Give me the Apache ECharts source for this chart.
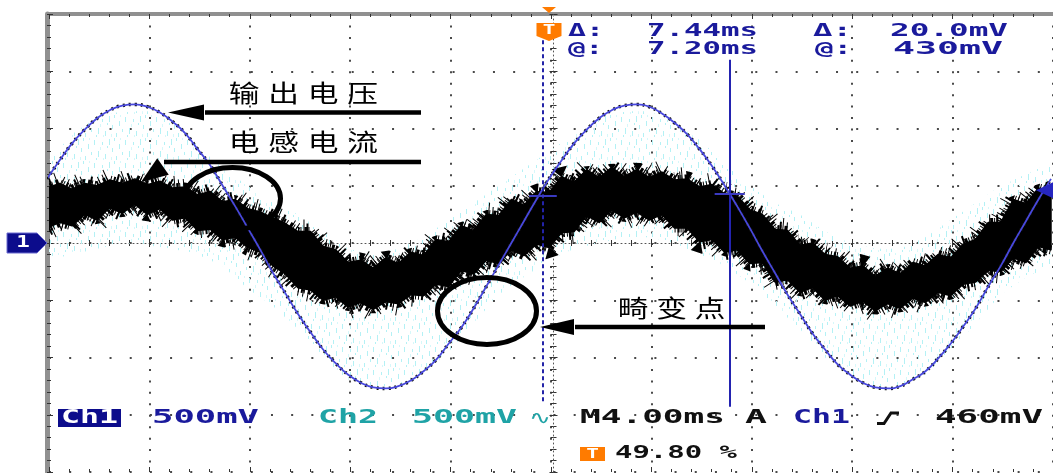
<!DOCTYPE html>
<html>
<head>
<meta charset="utf-8">
<script src="https://cdn.jsdelivr.net/npm/echarts@6/dist/echarts.min.js"></script>
<style>
  html, body { margin: 0; padding: 0; background: #fff; }
  #scope { width: 1053px; height: 473px; }
</style>
</head>
<body>
<div id="scope"></div>
<script>
// ---------------- acquisition settings ----------------
const timePerDiv = 4;          // ms / div  (M4.00ms)
const voltsPerDiv = 0.5;       // V / div   (Ch1 500mV, Ch2 500mV)
const hDivs = 10, vDivs = 8;
const triggerPosPct = 49.80;   // trigger position, % of record
const triggerLevel = 0.46;     // V, Ch1 rising edge
const cursorTimes = [-0.24, 7.20];  // ms, relative to trigger
const cursorVolts = [0.41, 0.43];   // V

// ---------------- output voltage (Ch1), 0.5 ms samples ----------------
const vStart = -20, vStep = 0.5;
const outputVoltage = [
  0.56, 0.72, 0.87, 0.99, 1.09, 1.16, 1.20, 1.21, 1.19, 1.14,
  1.06, 0.96, 0.82, 0.68, 0.50, 0.32, 0.13, -0.06, -0.26, -0.44,
  -0.62, -0.78, -0.93, -1.05, -1.15, -1.22, -1.26, -1.27, -1.25, -1.20,
  -1.12, -1.02, -0.88, -0.74, -0.57, -0.38, -0.19, 0.00, 0.19, 0.38,
  0.56, 0.72, 0.87, 0.99, 1.09, 1.16, 1.20, 1.21, 1.19, 1.13,
  1.05, 0.95, 0.82, 0.67, 0.50, 0.32, 0.13, -0.07, -0.26, -0.45,
  -0.62, -0.79, -0.93, -1.06, -1.15, -1.22, -1.26, -1.27, -1.25, -1.19,
  -1.12, -1.01, -0.88, -0.73, -0.57, -0.38, -0.20, 0.00, 0.19, 0.38,
  0.56
];

// ---------------- inductor current trace envelope, 0.5 ms samples ----------------
const iStart = -20, iStep = 0.5;
const currentUpper = [
  0.48, 0.52, 0.47, 0.52, 0.50, 0.55, 0.52, 0.56, 0.51, 0.54,
  0.48, 0.49, 0.42, 0.45, 0.36, 0.38, 0.30, 0.27, 0.22, 0.17,
  0.10, 0.10, -0.03, -0.06, -0.17, -0.15, -0.22, -0.13, -0.18, -0.08,
  -0.11, 0.03, 0.01, 0.15, 0.11, 0.25, 0.24, 0.38, 0.33, 0.45,
  0.44, 0.58, 0.53, 0.64, 0.57, 0.66, 0.58, 0.64, 0.57, 0.62,
  0.55, 0.56, 0.49, 0.51, 0.43, 0.41, 0.29, 0.25, 0.12, 0.11,
  -0.02, 0.00, -0.10, -0.12, -0.22, -0.20, -0.29, -0.22, -0.27, -0.17,
  -0.20, -0.10, -0.13, -0.01, 0.03, 0.18, 0.18, 0.38, 0.34, 0.48,
  0.45
];
const currentLower = [
  0.13, 0.18, 0.15, 0.25, 0.20, 0.31, 0.26, 0.34, 0.25, 0.30,
  0.20, 0.22, 0.11, 0.12, 0.03, 0.05, -0.04, -0.08, -0.20, -0.27,
  -0.39, -0.41, -0.50, -0.47, -0.56, -0.52, -0.58, -0.51, -0.53, -0.45,
  -0.46, -0.36, -0.38, -0.24, -0.27, -0.15, -0.18, -0.06, -0.11, -0.01,
  -0.04, 0.09, 0.10, 0.24, 0.18, 0.29, 0.22, 0.27, 0.20, 0.25,
  0.13, 0.13, 0.01, 0.03, -0.08, -0.06, -0.18, -0.17, -0.34, -0.32,
  -0.43, -0.39, -0.50, -0.46, -0.55, -0.51, -0.59, -0.53, -0.57, -0.48,
  -0.52, -0.43, -0.46, -0.36, -0.34, -0.24, -0.25, -0.13, -0.17, -0.03,
  -0.06
];

// ---------------- Ch2 noise spread, 1 ms samples ----------------
const hStart = -20, hStep = 1;
const ch2Upper = [
  0.70, 0.95, 1.10, 1.15, 1.15, 1.05, 0.85, 0.65, 0.50, 0.35,
  0.25, 0.10, -0.05, -0.10, -0.05, 0.05, 0.20, 0.35, 0.50, 0.65,
  0.80, 0.95, 1.10, 1.15, 1.15, 1.05, 0.90, 0.70, 0.50, 0.35,
  0.25, 0.10, 0.00, -0.05, -0.05, 0.05, 0.20, 0.35, 0.50, 0.60,
  0.70
];
const ch2Lower = [
  -0.15, -0.10, -0.05, 0.00, -0.02, -0.05, -0.10, -0.20, -0.40, -0.55,
  -0.75, -1.00, -1.20, -1.25, -1.25, -1.15, -0.95, -0.70, -0.45, -0.30,
  -0.15, -0.05, 0.00, 0.05, 0.05, 0.00, -0.10, -0.20, -0.35, -0.55,
  -0.75, -1.00, -1.15, -1.25, -1.25, -1.15, -0.95, -0.70, -0.45, -0.30,
  -0.20
];

// ---------------- screen geometry ----------------
const xMin = -triggerPosPct / 100 * hDivs * timePerDiv;
const xMax = xMin + hDivs * timePerDiv;
const yMin = -vDivs / 2 * voltsPerDiv, yMax = vDivs / 2 * voltsPerDiv;
const GRID = { left: 49, top: 14, width: 1009, height: 458 };

const BLUE_TXT = '#1a1a9c', TEAL = '#1fa3a6', ORANGE = '#ff7b00', NAVY = '#0c0c8c';
const DOT = '#4a4a4a';

// sparse cyan streak texture for the noisy Ch2 trace
function hazePattern() {
  const c = document.createElement('canvas');
  c.width = 31; c.height = 23;
  const g = c.getContext('2d');
  g.fillStyle = '#b4f1f5';
  [[1, 2, 5], [5, 13, 6], [9, 4, 3], [12, 16, 5], [16, 1, 6], [19, 10, 4],
   [23, 18, 4], [26, 6, 5], [29, 14, 3], [3, 20, 2], [14, 8, 2], [21, 0, 3]]
    .forEach(([x, y, h]) => g.fillRect(x, y, 1, h));
  g.fillStyle = '#d6f8fa';
  [[7, 9, 3], [18, 19, 3], [27, 0, 2], [10, 20, 2]]
    .forEach(([x, y, h]) => g.fillRect(x, y, 1, h));
  return c;
}

// filled band between two sampled envelopes; optional ragged fringe on both edges
function envelopeSeries(name, start, step, upper, lower, style, z, fringe) {
  return {
    type: 'custom', name, z, silent: true, clip: true,
    data: [[0, 0]],
    encode: { x: 0, y: 1 },
    renderItem: (params, api) => {
      const top = upper.map((v, i) => api.coord([start + i * step, v]));
      const bot = lower.map((v, i) => api.coord([start + i * step, v]));
      const children = [{ type: 'polygon', shape: { points: top.concat(bot.slice().reverse()) }, style }];
      (fringe || []).forEach(f => {
        [top, bot].forEach((pts, k) => children.push({
          type: 'polyline', shape: { points: pts },
          style: { fill: null, stroke: '#000', lineWidth: f.width, lineDash: f.dash,
                   lineDashOffset: f.offset * (k + 1), lineCap: 'butt', lineJoin: 'bevel' }
        }));
      });
      return { type: 'group', children };
    }
  };
}

function baseAxis(dimMin, dimMax, interval, extra) {
  return Object.assign({
    type: 'value', min: dimMin, max: dimMax, interval,
    axisLabel: { show: false },
    splitLine: { show: false },
    axisTick: { show: false },
    minorTick: { show: false },
    axisLine: { show: false, onZero: false }
  }, extra);
}

const tick = (len, inside) => ({ show: true, inside, length: len, lineStyle: { color: '#333', width: 1 } });
const minor = (len) => ({ show: true, splitNumber: 5, length: len, lineStyle: { color: '#333', width: 1 } });
const centreX = GRID.left + GRID.width / 2;
const centreY = GRID.top + GRID.height / 2;

const sineData = outputVoltage.map((v, i) => [vStart + i * vStep, v]);

const chart = echarts.init(document.getElementById('scope'), null, { renderer: 'canvas', width: 1053, height: 473 });

chart.setOption({
  animation: false,
  backgroundColor: '#ffffff',
  grid: GRID,
  xAxis: [
    baseAxis(xMin, xMax, timePerDiv, {
      position: 'top',
      axisLine: { show: true, onZero: false, lineStyle: { color: '#909090', width: 4 } },
      axisTick: tick(5, true), minorTick: minor(3),
      splitLine: { show: true, lineStyle: { color: DOT, width: 2, type: [2, 9.45] } }
    }),
    baseAxis(xMin, xMax, timePerDiv, {
      position: 'top', offset: -(centreY - GRID.top),
      axisLine: { show: true, onZero: false, lineStyle: { color: '#555', width: 1, type: [1, 3] } },
      axisTick: tick(4, true), minorTick: minor(3)
    }),
    baseAxis(xMin, xMax, timePerDiv, {
      position: 'top', offset: -(centreY - GRID.top),
      axisTick: tick(4, false), minorTick: minor(3)
    }),
    baseAxis(xMin, xMax, timePerDiv, {
      position: 'bottom',
      axisTick: tick(5, true), minorTick: minor(3)
    })
  ],
  yAxis: [
    baseAxis(yMin, yMax, voltsPerDiv, {
      position: 'left', offset: 2,
      axisLine: { show: true, onZero: false, lineStyle: { color: '#909090', width: 5 } },
      axisTick: tick(6, true), minorTick: minor(4),
      splitLine: { show: true, lineStyle: { color: DOT, width: 2, type: [2, 18.18] } }
    }),
    baseAxis(yMin, yMax, voltsPerDiv, {
      position: 'left', offset: -(centreX - GRID.left),
      axisLine: { show: true, onZero: false, lineStyle: { color: '#555', width: 1, type: [1, 3] } },
      axisTick: tick(4, true), minorTick: minor(3)
    }),
    baseAxis(yMin, yMax, voltsPerDiv, {
      position: 'left', offset: -(centreX - GRID.left),
      axisTick: tick(4, false), minorTick: minor(3)
    })
  ],
  series: [
    envelopeSeries('Ch2', hStart, hStep, ch2Upper, ch2Lower,
      { fill: { image: hazePattern(), repeat: 'repeat' } }, 1),
    envelopeSeries('电感电流', iStart, iStep, currentUpper, currentLower,
      { fill: '#000', stroke: '#000', lineWidth: 1.5, lineJoin: 'round' }, 2,
      [ { width: 9, dash: [1, 2, 2, 1, 1, 3, 3, 1, 1, 2], offset: 0 },
        { width: 16, dash: [1, 6, 2, 9, 1, 4, 1, 11, 2, 5], offset: 3 },
        { width: 24, dash: [1, 17, 1, 23, 1, 29], offset: 7 } ]),
    {
      type: 'line', name: 'trace-dots', data: sineData, smooth: true, showSymbol: false, z: 3,
      silent: true, lineStyle: { color: '#111', width: 3.5, type: [2, 4] }
    },
    {
      type: 'line', name: '输出电压', data: sineData, smooth: true, showSymbol: false, z: 4,
      silent: true, lineStyle: { color: '#4848dc', width: 1.8 }
    },
    {
      type: 'line', name: 'cursors', data: [], z: 5, silent: true,
      markLine: {
        silent: true, symbol: ['none', 'none'], label: { show: false },
        data: [
          [{ coord: [cursorTimes[0], 1.77], lineStyle: { color: '#2323a8', width: 2, type: [4, 3] } },
           { coord: [cursorTimes[0], -1.40] }],
          [{ coord: [cursorTimes[1], 1.60], lineStyle: { color: '#2323b0', width: 2, type: 'solid' } },
           { coord: [cursorTimes[1], -1.43] }],
          [{ coord: [cursorTimes[0] - 0.55, cursorVolts[0]], lineStyle: { color: '#3a3ac0', width: 2, type: 'solid' } },
           { coord: [cursorTimes[0] + 0.55, cursorVolts[0]] }],
          [{ coord: [cursorTimes[1] - 0.6, cursorVolts[1]], lineStyle: { color: '#3a3ac0', width: 2, type: 'solid' } },
           { coord: [cursorTimes[1] + 0.6, cursorVolts[1]] }]
        ]
      }
    }
  ]
});

// ---------------- on-screen annotations ----------------
const measureCtx = document.createElement('canvas').getContext('2d');
const MONO = '"DejaVu Sans Mono", monospace';

function stretchText(str, x1, x2, yMid, size, color, weight, family) {
  weight = weight || 'bold';
  family = family || MONO;
  measureCtx.font = `${weight} ${size}px ${family}`;
  const w = measureCtx.measureText(str).width;
  return {
    type: 'text', x: x1, y: yMid, scaleX: (x2 - x1) / w, z: 100, silent: true,
    style: { text: str, fill: color, fontSize: size, fontFamily: family, fontWeight: weight,
             align: 'left', verticalAlign: 'middle' }
  };
}

function cjkLabel(str, firstCentre, pitch, yMid) {
  return str.split('').map((ch, i) => ({
    type: 'text', x: firstCentre + i * pitch, y: yMid, scaleX: 1.28, z: 100, silent: true,
    style: { text: ch, fill: '#000', fontSize: 24, fontFamily: '"Noto Sans CJK SC", sans-serif',
             fontWeight: 'normal', align: 'center', verticalAlign: 'middle' }
  }));
}

function arrow(tip, base, halfW, tailX, lineY) {
  const dx = tip[0] - base[0], dy = tip[1] - base[1];
  const len = Math.hypot(dx, dy), nx = -dy / len, ny = dx / len;
  return [
    { type: 'line', z: 100, silent: true, shape: { x1: base[0] + 1, y1: lineY, x2: tailX, y2: lineY },
      style: { stroke: '#000', lineWidth: 4.5 } },
    { type: 'polygon', z: 101, silent: true,
      shape: { points: [tip, [base[0] + nx * halfW, base[1] + ny * halfW], [base[0] - nx * halfW, base[1] - ny * halfW]] },
      style: { fill: '#000' } }
  ];
}

const ring = (cx, cy, rx, ry) => ({
  type: 'ellipse', z: 100, silent: true, shape: { cx, cy, rx, ry },
  style: { fill: 'none', stroke: '#000', lineWidth: 5 }
});

const trigPx = chart.convertToPixel({ xAxisIndex: 0, yAxisIndex: 0 }, [0, triggerLevel]);
const gndPx = chart.convertToPixel({ xAxisIndex: 0, yAxisIndex: 0 }, [0, 0]);
const tx = trigPx[0];

const dt = (cursorTimes[1] - cursorTimes[0]).toFixed(2);
const dv = ((cursorVolts[1] - cursorVolts[0]) * 1000).toFixed(1);
const atT = cursorTimes[1].toFixed(2);
const atV = Math.round(cursorVolts[1] * 1000);

const graphics = [
  stretchText('Δ:', 568, 604, 31, 18, BLUE_TXT),
  stretchText(dt + 'ms', 647, 758, 31, 18, BLUE_TXT),
  stretchText('Δ:', 813, 852, 31, 18, BLUE_TXT),
  stretchText(dv + 'mV', 890, 1008, 31, 18, BLUE_TXT),
  stretchText('@:', 568, 603, 49, 18, BLUE_TXT),
  stretchText(atT + 'ms', 647, 758, 49, 18, BLUE_TXT),
  stretchText('@:', 815, 852, 49, 18, BLUE_TXT),
  stretchText(atV + 'mV', 893, 1003, 49, 18, BLUE_TXT),

  { type: 'polygon', z: 110, silent: true, shape: { points: [[tx - 7, 7], [tx + 7, 7], [tx, 13]] }, style: { fill: ORANGE } },
  { type: 'polygon', z: 110, silent: true,
    shape: { points: [[tx - 12.5, 23], [tx + 12.5, 23], [tx + 12.5, 36], [tx, 41], [tx - 12.5, 36]] },
    style: { fill: ORANGE } },
  { type: 'text', z: 111, silent: true, x: tx, y: 30, scaleX: 1.5,
    style: { text: 'T', fill: '#fff', fontSize: 14, fontWeight: 'bold', fontFamily: MONO, align: 'center', verticalAlign: 'middle' } },

  { type: 'polygon', z: 110, silent: true,
    shape: { points: [[7, gndPx[1] - 10], [37, gndPx[1] - 10], [47, gndPx[1]], [37, gndPx[1] + 10], [7, gndPx[1] + 10]] },
    style: { fill: NAVY, stroke: '#6a6ad0', lineWidth: 1 } },
  { type: 'text', z: 111, silent: true, x: 23, y: gndPx[1], scaleX: 1.5,
    style: { text: '1', fill: '#fff', fontSize: 15, fontWeight: 'bold', fontFamily: MONO, align: 'center', verticalAlign: 'middle' } },

  { type: 'polygon', z: 110, silent: true,
    shape: { points: [[1036, trigPx[1]], [1053, trigPx[1] - 8], [1053, trigPx[1] + 8]] },
    style: { fill: '#2626c0' } },

  { type: 'rect', z: 100, silent: true, shape: { x: 58, y: 409, width: 63, height: 18 }, style: { fill: NAVY } },
  stretchText('Ch1', 61, 118, 418.5, 19, '#ffffff'),
  stretchText('500mV', 152, 259, 418.5, 19, BLUE_TXT),
  stretchText('Ch2', 318, 378, 418.5, 19, TEAL),
  stretchText('500mV', 412, 517, 418.5, 19, TEAL),
  stretchText('∿', 529, 551, 419, 19, TEAL, 'normal', '"DejaVu Sans", sans-serif'),
  stretchText('M4.00ms', 580, 725, 418.5, 19, '#111'),
  stretchText('A', 745, 767, 418.5, 19, '#111'),
  stretchText('Ch1', 793, 850, 418.5, 19, BLUE_TXT),
  { type: 'polyline', z: 100, silent: true,
    shape: { points: [[877, 423.5], [884, 423.5], [891, 413], [899, 413]] },
    style: { stroke: '#111', lineWidth: 3, fill: 'none' } },
  stretchText('460mV', 935, 1043, 418.5, 19, '#111'),
  { type: 'rect', z: 100, silent: true, shape: { x: 580, y: 447, width: 25, height: 14 }, style: { fill: ORANGE } },
  { type: 'text', z: 101, silent: true, x: 592.5, y: 454, scaleX: 1.5,
    style: { text: 'T', fill: '#fff', fontSize: 14, fontWeight: 'bold', fontFamily: MONO, align: 'center', verticalAlign: 'middle' } },
  stretchText(triggerPosPct.toFixed(2) + ' %', 615, 737, 454, 17, '#111'),

  ...cjkLabel('输出电压', 244, 39.5, 93),
  ...cjkLabel('电感电流', 244, 39.5, 142),
  ...cjkLabel('畸变点', 633, 38.5, 308),
  ...arrow([168, 112.5], [204, 112.5], 8, 421, 112.5),
  ...arrow([141, 182], [163, 166.5], 10, 421, 162),
  ...arrow([540, 327], [574, 327], 8, 765, 327),
  ring(232.5, 198.5, 48, 31),
  ring(487, 311, 49.5, 33.5)
];

chart.setOption({ graphic: graphics });
</script>
</body>
</html>
